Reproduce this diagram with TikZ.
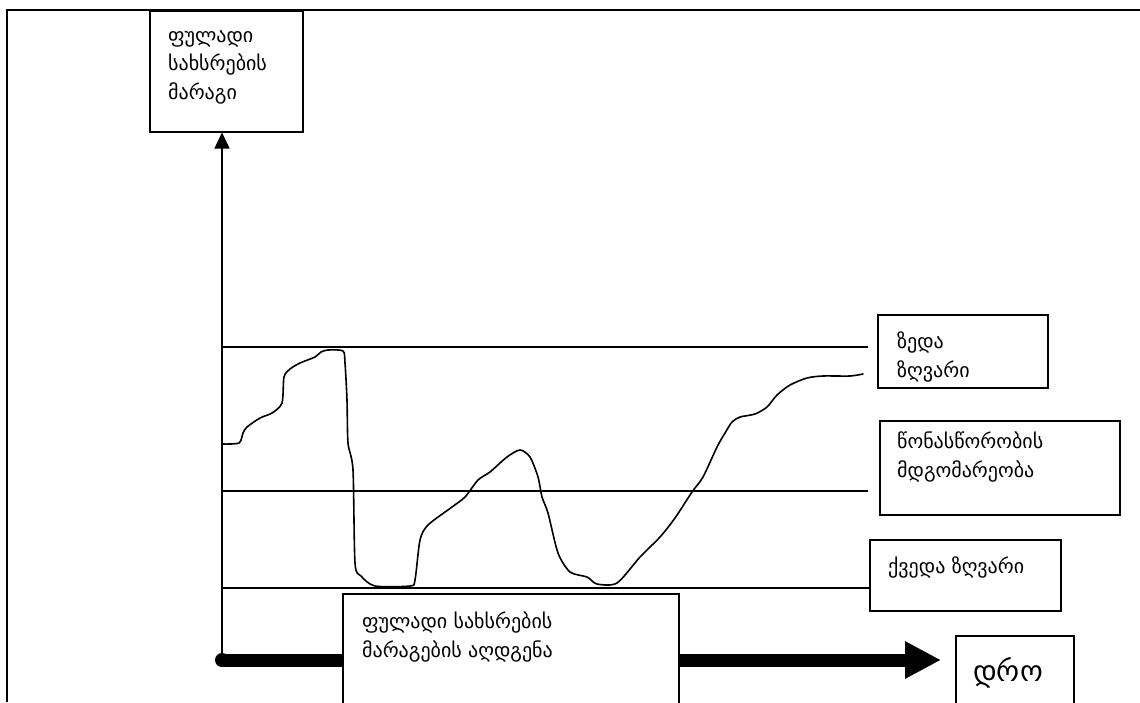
\documentclass[tikz,border=0pt]{standalone}
\usepackage{fontspec}
\setmainfont{DejaVu Sans}
\usetikzlibrary{arrows.meta}
\tikzset{
  frameline/.style={line width=1.6pt, black},
  boxnode/.style={draw, line width=1.5pt, fill=white, rectangle, inner sep=0pt, anchor=north west},
  txt/.style={anchor=north west, inner sep=0pt, align=left, font=\fontsize{20}{28.5}\selectfont},
  level/.style={line width=1.4pt},
  curveline/.style={line width=1.6pt, line join=round, line cap=round},
  axisline/.style={line width=1.5pt, -{Triangle[length=16pt,width=15pt]}},
  timeline/.style={line width=13pt, -{Triangle[length=36pt,width=35pt]}}
}
\begin{document}
\begin{tikzpicture}[x=1pt, y=-1pt]
\useasboundingbox (0,0) rectangle (1140,702);
% page frame (top and left edges)
\draw[frameline] (7,702) -- (7,10) -- (1140,10);

% reference points
\coordinate (origin) at (222,660);
\coordinate (timeend) at (941,660);
\coordinate (upA) at (222,347);  \coordinate (upB) at (868,347);
\coordinate (eqA) at (222,491);  \coordinate (eqB) at (868,491);
\coordinate (loA) at (222,588);  \coordinate (loB) at (869,588);

% boundary and equilibrium levels
\draw[level] (upA) -- (upB);
\draw[level] (eqA) -- (eqB);
\draw[level] (loA) -- (loB);

% cash stock over time
\draw[curveline] plot[smooth, tension=0.45] coordinates {
 (222,444) (239,443) (243,433) (247,427) (260,418) (272,413) (282,403)
 (284,377) (290,369) (300,363) (315,357) (321,352) (328,350) (343,351)
 (345,363) (347,400) (348,443) (353,470) (355,563) (361,576) (375,586)
 (410,586) (415,580) (420,540) (428,525) (452,507) (465,497) (478,480)
 (490,472) (507,457) (520,450) (530,457) (538,477) (542,497) (548,513)
 (558,553) (570,572) (587,577) (597,584) (617,583) (640,557) (660,537)
 (675,518) (692,492) (703,477) (717,447) (725,433) (732,422) (740,417)
 (755,414) (767,407) (777,395) (790,385) (807,378) (823,376) (850,376)
 (863,374)};

% boxes
\node[boxnode, minimum width=153pt, minimum height=121pt] (stock) at (149,10) {};
\node[boxnode, minimum width=170pt, minimum height=73pt] (upper) at (877,314) {};
\node[boxnode, minimum width=240pt, minimum height=94pt] (equil) at (879,420) {};
\node[boxnode, minimum width=191pt, minimum height=71pt] (lower) at (869,539) {};
\node[boxnode, minimum width=118pt, minimum height=90pt] (timebox) at (955,635) {};

% axes
\draw[axisline] (origin) -- (stock.south -| origin);
\draw[timeline] (origin) -- (timeend);
\fill (origin) circle (7pt);

% restoration box sits over the time axis
\node[boxnode, minimum width=336pt, minimum height=130pt] (restore) at (342,593) {};

% labels
\node[txt] (stocktxt) at (168,30) {ფულადი\\სახსრების\\მარაგი};
\node[txt] (uppertxt) at (897,332) {ზედა\\ზღვარი};
\node[txt] (equiltxt) at (897,432) {წონასწორობის\\მდგომარეობა};
\node[txt] (lowertxt) at (888,557) {ქვედა ზღვარი};
\node[txt] (restoretxt) at (362,612) {ფულადი სახსრების\\მარაგების აღდგენა};
\node[anchor=west, inner sep=0pt, font=\fontsize{29}{34}\selectfont] (timetxt) at (973,673) {დრო};
\end{tikzpicture}
\end{document}
